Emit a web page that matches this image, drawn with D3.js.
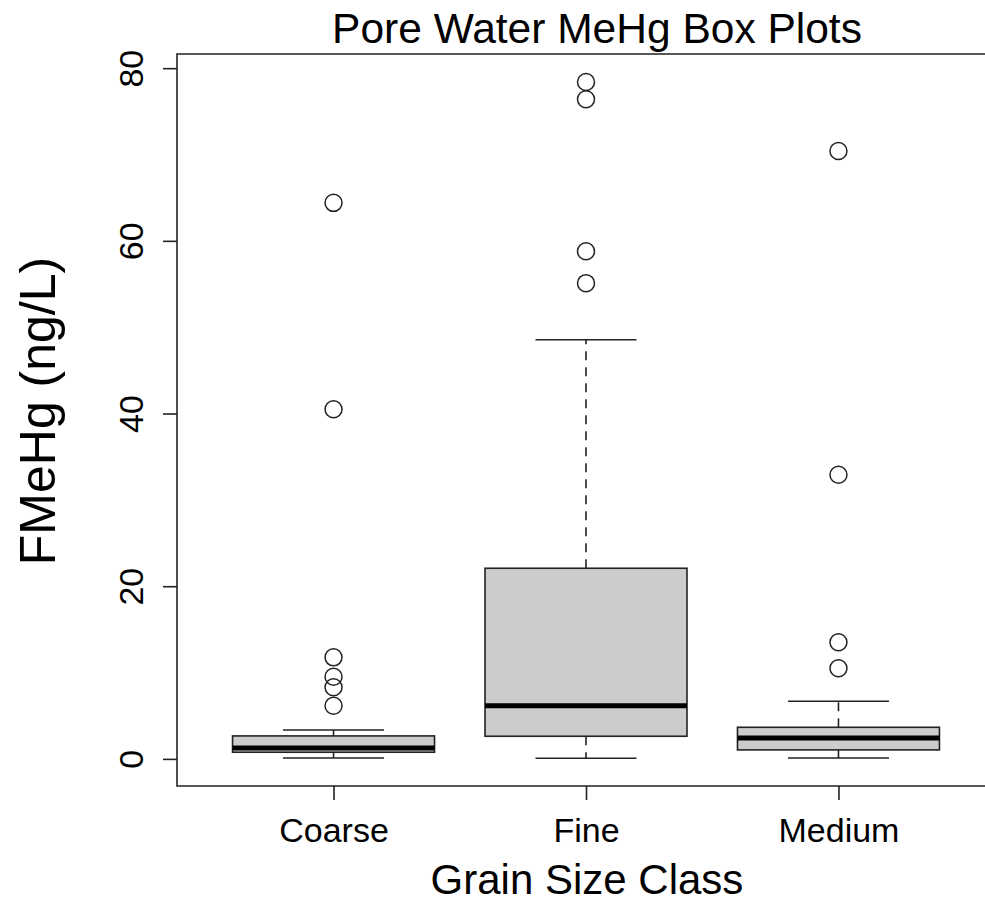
<!DOCTYPE html>
<html><head><meta charset="utf-8">
<script src="https://cdn.jsdelivr.net/npm/d3@7"></script>
<style>body{margin:0;background:#fff;overflow:hidden}svg{display:block;overflow:hidden}text{font-family:"Liberation Sans",Arial,sans-serif;fill:#000}</style>
</head><body>
<script>
const categories = ["Coarse", "Fine", "Medium"];
const whiskerLow = [0.1, 0.08, 0.1];
const q1 = [0.77, 2.62, 1.04];
const medians = [1.27, 6.16, 2.43];
const q3 = [2.66, 22.08, 3.66];
const whiskerHigh = [3.35, 48.55, 6.67];
const outliers = [
  [64.4, 40.5, 11.76, 9.51, 8.29, 6.16],
  [78.4, 76.4, 58.8, 55.1],
  [70.4, 32.9, 13.5, 10.5]
];
const yTicks = [0, 20, 40, 60, 80];
const title = "Pore Water MeHg Box Plots";
const xLabel = "Grain Size Class";
const yLabel = "FMeHg (ng/L)";

const W = 985, H = 902;
const svg = d3.select("body").append("svg").attr("width", W).attr("height", H);
const pLeft = 177, pRight = 995, pTop = 54, pBottom = 786;
const x = d3.scaleLinear().domain([0.38, 3.62]).range([pLeft, pRight]);
const y = d3.scaleLinear().domain([-3.14, 81.64]).range([pBottom, pTop]);
const ink = "#222";

const data = categories.map((c, i) => ({c, i: i + 1, lo: whiskerLow[i], q1: q1[i], med: medians[i], q3: q3[i], hi: whiskerHigh[i], out: outliers[i]}));

const g = svg.append("g");
const bw = x(1.4) - x(1);   // half box width (0.4 units)
const cw = x(1.2) - x(1);   // half cap width
data.forEach(d => {
  const cx = x(d.i);
  g.append("line").attr("x1", cx).attr("x2", cx).attr("y1", y(d.q3)).attr("y2", y(d.hi))
    .attr("stroke", ink).attr("stroke-width", 1.6).attr("stroke-dasharray", "9,7");
  g.append("line").attr("x1", cx).attr("x2", cx).attr("y1", y(d.q1)).attr("y2", y(d.lo))
    .attr("stroke", ink).attr("stroke-width", 1.6).attr("stroke-dasharray", "9,7");
  [d.lo, d.hi].forEach(v => g.append("line").attr("x1", cx - cw).attr("x2", cx + cw).attr("y1", y(v)).attr("y2", y(v))
    .attr("stroke", ink).attr("stroke-width", 1.6));
  g.append("rect").attr("x", cx - bw).attr("width", 2 * bw).attr("y", y(d.q3)).attr("height", y(d.q1) - y(d.q3))
    .attr("fill", "#cccccc").attr("stroke", ink).attr("stroke-width", 1.6);
  g.append("line").attr("x1", cx - bw).attr("x2", cx + bw).attr("y1", y(d.med)).attr("y2", y(d.med))
    .attr("stroke", "#000").attr("stroke-width", 5);
  g.selectAll(null).data(d.out).enter().append("circle")
    .attr("cx", cx).attr("cy", v => y(v)).attr("r", 8.5)
    .attr("fill", "none").attr("stroke", ink).attr("stroke-width", 1.5);
});

// frame: top, left, bottom (right edge falls outside the picture)
svg.append("path")
  .attr("d", `M${W + 5},${pTop}H${pLeft}V${pBottom}H${W + 5}`)
  .attr("fill", "none").attr("stroke", ink).attr("stroke-width", 1.6);

const yAxis = svg.append("g").attr("transform", `translate(${pLeft},0)`)
  .call(d3.axisLeft(y).tickValues(yTicks).tickSize(14).tickSizeOuter(0).tickFormat(d3.format("d")));
yAxis.select(".domain").remove();
yAxis.selectAll(".tick line").attr("stroke", ink).attr("stroke-width", 1.6);
yAxis.selectAll(".tick text").attr("transform", "rotate(-90)").attr("x", 0).attr("y", -34)
  .attr("dy", 0).attr("text-anchor", "middle").style("font-size", "34px").style("font-family", '"Liberation Sans",Arial,sans-serif');

const xAxis = svg.append("g").attr("transform", `translate(0,${pBottom})`)
  .call(d3.axisBottom(x).tickValues([1, 2, 3]).tickSize(14).tickSizeOuter(0).tickFormat((d, i) => categories[i]));
xAxis.select(".domain").remove();
xAxis.selectAll(".tick line").attr("stroke", ink).attr("stroke-width", 1.6);
xAxis.selectAll(".tick text").attr("y", 56).attr("dy", 0).style("font-size", "34px").style("font-family", '"Liberation Sans",Arial,sans-serif');

svg.append("text").attr("x", 597).attr("y", 43).attr("text-anchor", "middle")
  .style("font-size", "42.5px").text(title);
svg.append("text").attr("x", 587).attr("y", 894).attr("text-anchor", "middle")
  .style("font-size", "42px").text(xLabel);
svg.append("text").attr("transform", `translate(55,411) rotate(-90)`).attr("text-anchor", "middle")
  .style("font-size", "50px").text(yLabel);
</script>
</body></html>
